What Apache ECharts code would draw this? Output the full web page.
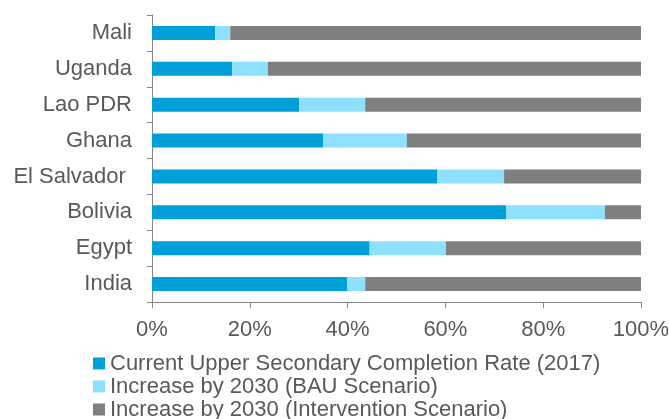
<!DOCTYPE html>
<html>
<head>
<meta charset="utf-8">
<script src="https://cdn.jsdelivr.net/npm/echarts@6/dist/echarts.min.js"></script>
<style>
  html, body { margin: 0; padding: 0; background: #fff; }
  #chart { width: 669px; height: 419px; }
</style>
</head>
<body>
<div id="chart"></div>
<script>
// countries, top to bottom
const countries = ['Mali', 'Uganda', 'Lao PDR', 'Ghana', 'El Salvador ', 'Bolivia', 'Egypt', 'India']

// % values
const current2017 = [12.9, 16.4, 30.1, 35.0, 58.3, 72.4, 44.5, 39.9]
const bauIncrease = [3.1, 7.3, 13.5, 17.1, 13.7, 20.2, 15.6, 3.7]
const interventionIncrease = [84.0, 76.3, 56.4, 47.9, 28.0, 7.4, 39.9, 56.4]

const seriesNames = [
  'Current Upper Secondary Completion Rate (2017)',
  'Increase by 2030 (BAU Scenario)',
  'Increase by 2030 (Intervention Scenario)',
]
const xTicks = [0, 20, 40, 60, 80, 100]

const textColor = '#595959'
const axisColor = '#868686'
const font = 'Liberation Sans, Arial, sans-serif'

const chart = echarts.init(document.getElementById('chart'))

const barSeries = (name, data, color) => ({
  name,
  type: 'bar',
  stack: 'total',
  data,
  barWidth: 14,
  itemStyle: { color },
  emphasis: { disabled: true },
})

chart.setOption({
  animation: false,
  textStyle: { fontFamily: font },
  grid: {
    left: 152, right: 28, top: 15, bottom: 117,
    containLabel: false,
    outerBoundsMode: 'none',
  },
  legend: {
    orient: 'vertical',
    left: 93,
    top: 352,
    width: 570,
    height: 120,
    itemWidth: 12,
    itemHeight: 12,
    itemGap: 0,
    itemTextGap: 5,
    padding: 0,
    icon: 'rect',
    textStyle: { color: textColor, fontSize: 22, lineHeight: 23, fontFamily: font },
    data: seriesNames,
  },
  xAxis: {
    type: 'value',
    min: xTicks[0],
    max: xTicks[xTicks.length - 1],
    interval: 20,
    splitLine: { show: false },
    axisLine: { show: true, lineStyle: { color: axisColor, width: 1 } },
    axisTick: { show: true, length: 6, lineStyle: { color: axisColor } },
    axisLabel: {
      color: textColor,
      fontSize: 22,
      margin: 17,
      formatter: v => v + '%',
    },
  },
  yAxis: {
    type: 'category',
    inverse: true,
    data: countries,
    axisLine: { show: true, lineStyle: { color: axisColor, width: 1 } },
    axisTick: { show: true, length: 5, lineStyle: { color: axisColor } },
    axisLabel: { color: textColor, fontSize: 22, margin: 20 },
  },
  series: [
    barSeries(seriesNames[0], current2017, '#009FDA'),
    barSeries(seriesNames[1], bauIncrease, '#8EE0FF'),
    barSeries(seriesNames[2], interventionIncrease, '#7F7F7F'),
  ],
})
</script>
</body>
</html>
